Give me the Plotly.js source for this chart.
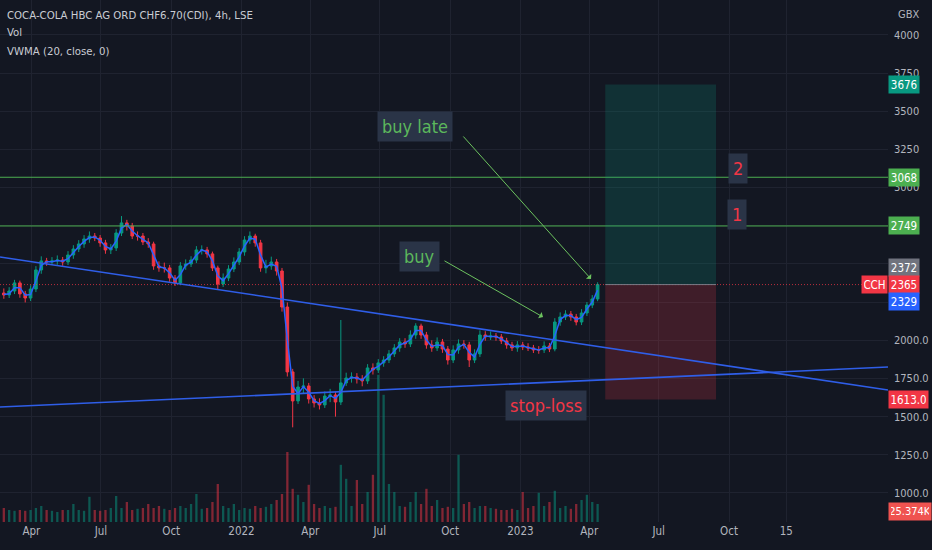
<!DOCTYPE html>
<html>
<head>
<meta charset="utf-8">
<script src="https://cdn.plot.ly/plotly-3.0.1.min.js"></script>
<style>
html,body{margin:0;padding:0;background:#131722;}
#chart{width:932px;height:550px;}
</style>
</head>
<body>
<div id="chart"></div>
<script>
// ---- data (weekly candles) ----
const dates = [
'2021-02-24','2021-03-03','2021-03-10','2021-03-17','2021-03-24','2021-03-31','2021-04-07','2021-04-14','2021-04-21','2021-04-28',
'2021-05-05','2021-05-12','2021-05-19','2021-05-26','2021-06-02','2021-06-09','2021-06-16','2021-06-23','2021-06-30','2021-07-07',
'2021-07-14','2021-07-21','2021-07-28','2021-08-04','2021-08-11','2021-08-18','2021-08-25','2021-09-01','2021-09-08','2021-09-15',
'2021-09-22','2021-09-29','2021-10-06','2021-10-13','2021-10-20','2021-10-27','2021-11-03','2021-11-10','2021-11-17','2021-11-24',
'2021-12-01','2021-12-08','2021-12-15','2021-12-22','2021-12-29','2022-01-05','2022-01-12','2022-01-19','2022-01-26','2022-02-02',
'2022-02-09','2022-02-16','2022-02-23','2022-03-02','2022-03-09','2022-03-16','2022-03-23','2022-03-30','2022-04-06','2022-04-13',
'2022-04-20','2022-04-27','2022-05-04','2022-05-11','2022-05-18','2022-05-25','2022-06-01','2022-06-08','2022-06-15','2022-06-22',
'2022-06-29','2022-07-06','2022-07-13','2022-07-20','2022-07-27','2022-08-03','2022-08-10','2022-08-17','2022-08-24','2022-08-31',
'2022-09-07','2022-09-14','2022-09-21','2022-09-28','2022-10-05','2022-10-12','2022-10-19','2022-10-26','2022-11-02','2022-11-09',
'2022-11-16','2022-11-23','2022-11-30','2022-12-07','2022-12-14','2022-12-21','2022-12-28','2023-01-04','2023-01-11','2023-01-18',
'2023-01-25','2023-02-01','2023-02-08','2023-02-15','2023-02-22','2023-03-01','2023-03-08','2023-03-15','2023-03-22','2023-03-29',
'2023-04-05','2023-04-12'];

const openP = [
2310,2297,2323,2376,2304,2277,2336,2461,2520,2513,
2520,2526,2513,2559,2598,2631,2664,2683,2670,2638,
2592,2605,2703,2769,2749,2683,2683,2644,2631,2487,
2474,2474,2408,2376,2487,2500,2526,2592,2592,2566,
2474,2369,2408,2467,2513,2579,2657,2683,2638,2474,
2487,2513,2454,2218,1793,1603,1694,1701,1616,1590,
1577,1635,1642,1596,1721,1753,1760,1747,1734,1819,
1806,1852,1871,1911,1950,1989,1976,2035,2094,2035,
1970,1950,1989,1943,1871,1937,1976,1970,1871,1911,
2035,2022,2028,2022,1996,1970,1950,1970,1956,1950,
1937,1937,1963,1943,2120,2153,2172,2153,2120,2179,
2231,2271];

const highP = [
2340,2348,2396,2391,2324,2361,2486,2550,2540,2545,
2556,2546,2584,2623,2656,2689,2713,2703,2690,2658,
2630,2728,2814,2789,2769,2713,2703,2669,2646,2517,
2509,2494,2428,2512,2530,2551,2617,2622,2612,2581,
2489,2438,2492,2543,2604,2682,2713,2698,2658,2527,
2548,2533,2474,2248,1813,1734,1751,1721,1641,1620,
1665,1682,1662,2133,1788,1790,1785,1772,1844,1849,
1877,1896,1936,1975,2014,2014,2065,2112,2109,2055,
2000,2019,2009,1963,1967,2006,2001,1990,1941,2065,
2060,2058,2048,2042,2016,1990,1995,1990,1981,1970,
1962,1993,1983,2145,2183,2197,2192,2173,2204,2251,
2296,2380];

const lowP = [
2272,2277,2303,2279,2248,2257,2316,2436,2488,2493,
2495,2488,2493,2534,2578,2606,2639,2650,2613,2567,
2565,2585,2683,2719,2663,2653,2624,2606,2462,2449,
2444,2383,2356,2361,2462,2480,2506,2562,2541,2454,
2332,2349,2388,2447,2493,2554,2632,2613,2449,2439,
2462,2424,2188,1763,1430,1583,1654,1586,1560,1547,
1557,1595,1500,1576,1701,1723,1717,1699,1714,1776,
1786,1827,1851,1891,1925,1951,1956,2010,2010,1945,
1925,1930,1918,1841,1851,1912,1945,1825,1851,1891,
1997,2002,1997,1976,1945,1930,1925,1936,1930,1917,
1912,1917,1923,1928,2095,2133,2128,2098,2100,2159,
2211,2256];

const closeP = [
2297,2323,2376,2304,2277,2336,2461,2520,2513,2520,
2526,2513,2559,2598,2631,2664,2683,2670,2638,2592,
2605,2703,2769,2749,2683,2683,2644,2631,2487,2474,
2474,2408,2376,2487,2500,2526,2592,2592,2566,2474,
2369,2408,2467,2513,2579,2657,2683,2638,2474,2487,
2513,2454,2218,1793,1603,1694,1701,1616,1590,1577,
1635,1642,1596,1721,1753,1760,1747,1734,1819,1806,
1852,1871,1911,1950,1989,1976,2035,2094,2035,1970,
1950,1989,1943,1871,1937,1976,1970,1871,1911,2035,
2022,2028,2022,1996,1970,1950,1970,1956,1950,1937,
1937,1963,1943,2120,2153,2172,2153,2120,2179,2231,
2271,2365];

const vwma = [
2300,2305,2345,2345,2295,2300,2390,2490,2515,2515,
2522,2518,2535,2578,2614,2648,2673,2677,2655,2615,
2598,2650,2735,2758,2716,2685,2664,2638,2560,2482,
2474,2442,2393,2430,2493,2512,2558,2592,2580,2520,
2422,2390,2437,2490,2546,2618,2670,2662,2558,2480,
2500,2485,2340,2005,1700,1650,1697,1660,1605,1585,
1605,1638,1620,1660,1737,1756,1753,1740,1776,1812,
1829,1861,1891,1930,1970,1982,2005,2064,2065,2002,
1960,1970,1966,1907,1904,1956,1973,1921,1891,1973,
2028,2025,2025,2009,1983,1960,1960,1963,1953,1943,
1937,1950,1953,2030,2136,2162,2162,2136,2150,2205,
2251,2329];

const volumeK = [
35,30,28,30,28,30,35,40,30,28,
25,30,30,45,30,28,63,30,28,30,
35,65,35,50,30,33,35,45,35,40,
33,30,35,40,35,45,70,33,35,50,
95,40,35,45,30,35,33,40,35,38,
45,55,70,175,83,68,50,93,45,35,
40,35,38,143,108,40,105,45,75,118,
368,318,95,75,40,38,50,75,45,83,
40,55,35,38,35,168,45,50,35,40,
40,35,33,30,30,33,30,75,35,40,
73,40,50,78,35,40,33,45,55,68,
50,45];

// drawn levels / labels
const xTickVals = ['2021-04-01','2021-07-01','2021-10-01','2022-01-01','2022-04-01','2022-07-01','2022-10-01','2023-01-01','2023-04-01','2023-07-01','2023-10-01','2023-12-15'];
const xTickText = ['Apr','Jul','Oct','2022','Apr','Jul','Oct','2023','Apr','Jul','Oct','15'];
const yTickVals = [1000,1250,1500,1750,2000,2250,2500,2750,3000,3250,3500,3750,4000];
const yTickText = ['1000.0','1250.0','1500.0','1750.0','2000.0','','','','3000','3250','3500','3750','4000'];
const targets = [3068, 2749];
const takeProfit = 3676, entry = 2365, stopLoss = 1613;
const lastHigh = 2372, lastVwma = 2329, lastVolK = 25.374;
const trendDown = {x: ['2021-02-19','2024-04-26'], y: [2546, 1675]};
const trendUp = {x: ['2021-02-19','2024-04-26'], y: [1563, 1825]};
const boxX = ['2023-04-22','2023-09-14'];

// ---- styling ----
const FONT = '"DejaVu Sans Condensed", "Liberation Sans Narrow", sans-serif';
const UP = '#089981', DOWN = '#f23645', BG = '#131722', GRID = '#1f2330', TXT = '#b2b5be';
const volColors = closeP.map((c,i) => c >= openP[i] ? 'rgba(8,153,129,0.5)' : 'rgba(242,54,69,0.5)');

const traces = [
  {type:'bar', x:dates, y:volumeK, yaxis:'y2', marker:{color:volColors, line:{width:0}},
   width: 3*86400000, hoverinfo:'skip', showlegend:false},
  {type:'candlestick', x:dates, open:openP, high:highP, low:lowP, close:closeP,
   increasing:{line:{color:UP, width:1}, fillcolor:UP},
   decreasing:{line:{color:DOWN, width:1}, fillcolor:DOWN},
   whiskerwidth:0, hoverinfo:'skip', showlegend:false},
  {type:'scatter', mode:'lines', x:dates, y:vwma, line:{color:'#2962ff', width:1.5},
   hoverinfo:'skip', showlegend:false}
];

const shapes = [];
targets.forEach(v => shapes.push({type:'line', xref:'paper', x0:0, x1:1, yref:'y', y0:v, y1:v, line:{color:'#4caf50', width:1}}));
shapes.push({type:'line', xref:'paper', x0:0, x1:1, yref:'y', y0:entry, y1:entry, line:{color:'rgba(242,54,69,0.75)', width:1, dash:'1px,2px'}});
shapes.push({type:'rect', xref:'x', yref:'y', x0:boxX[0], x1:boxX[1], y0:entry, y1:takeProfit, fillcolor:'rgba(8,153,129,0.2)', line:{width:0}});
shapes.push({type:'rect', xref:'x', yref:'y', x0:boxX[0], x1:boxX[1], y0:stopLoss, y1:entry, fillcolor:'rgba(242,54,69,0.2)', line:{width:0}});
shapes.push({type:'line', xref:'x', yref:'y', x0:boxX[0], x1:boxX[1], y0:entry, y1:entry, line:{color:'#787b86', width:1}});
shapes.push({type:'line', xref:'x', yref:'y', x0:trendDown.x[0], x1:trendDown.x[1], y0:trendDown.y[0], y1:trendDown.y[1], line:{color:'#2f5ee8', width:1.6}});
shapes.push({type:'line', xref:'x', yref:'y', x0:trendUp.x[0], x1:trendUp.x[1], y0:trendUp.y[0], y1:trendUp.y[1], line:{color:'#2f5ee8', width:1.6}});

const PW = 888, PH = 522;
const px = v => v/PW, py = v => 1 - v/PH;
const ann = [];
// legend texts
[['COCA-COLA HBC AG ORD CHF6.70(CDI), 4h, LSE',15],['Vol',33],['VWMA (20, close, 0)',52]].forEach(([t,y]) =>
  ann.push({xref:'paper', yref:'paper', x:px(5), y:py(y), xanchor:'left', yanchor:'middle', showarrow:false,
    text:t, font:{family:FONT, size:11.3, color:'#c9ccd3'}}));
ann.push({xref:'paper', yref:'paper', x:px(896), y:py(14), xanchor:'left', yanchor:'middle', showarrow:false,
  text:'GBX', font:{family:FONT, size:11, color:TXT}});
// text boxes
const boxBg = '#2a3447';
function note(t, cx, cy, color){
  ann.push({xref:'paper', yref:'paper', x:px(cx), y:py(cy), xanchor:'center', yanchor:'middle', showarrow:false,
    text:t, bgcolor:boxBg, borderpad:4, font:{family:FONT, size:18, color:color}});
}
note('buy late', 415, 126, '#5cb85c');
note('buy', 419, 257, '#5cb85c');
note('stop-loss', 546, 405, '#f23645');
note('2', 738, 168, '#f23645');
note('1', 737, 215, '#f23645');
// arrows
function arrow(x0,y0,x1,y1){
  ann.push({xref:'paper', yref:'paper', x:px(x1), y:py(y1), ax:x0-x1, ay:y0-y1, showarrow:true,
    arrowhead:1, arrowsize:1.2, arrowwidth:1, arrowcolor:'#6cc25f', text:''});
}
arrow(462,135,591,279);
arrow(443,260,543,317);
// price badges
function badge(t, yref, y, color, w, yshift, fs){
  ann.push({xref:'paper', x:1, xanchor:'left', yref:yref, y:y, yanchor:'middle', yshift:yshift||0, showarrow:false,
    text:t, bgcolor:color, width:w, height:13, borderpad:2, align:'center', font:{family:FONT, size:fs||11.5, color:'#ffffff'}});
}
badge(String(takeProfit), 'y', takeProfit, '#089981', 26);
badge(String(targets[0]), 'y', targets[0], '#4caf50', 26);
badge(String(targets[1]), 'y', targets[1], '#4caf50', 26);
badge(String(lastHigh), 'y', entry, '#70737e', 26, 17);
badge(String(entry), 'y', entry, '#f23645', 26);
badge(String(lastVwma), 'y', entry, '#2962ff', 26, -17);
badge(stopLoss.toFixed(1), 'y', stopLoss, '#f23645', 35);
badge(lastVolK.toFixed(3)+'K', 'y2', lastVolK, '#ef5350', 38, 0, 11);
ann.push({xref:'paper', x:1, xanchor:'right', yref:'y', y:entry, yanchor:'middle', showarrow:false,
  text:'CCH', bgcolor:'#f23645', width:21, height:13, borderpad:2, font:{family:FONT, size:11.5, color:'#ffffff'}});

const layout = {
  width:932, height:550,
  paper_bgcolor:BG, plot_bgcolor:BG,
  margin:{l:0, r:44, t:0, b:28},
  showlegend:false,
  dragmode:false,
  xaxis:{type:'date', range:['2021-02-19','2024-04-26'], tickvals:xTickVals, ticktext:xTickText,
    showgrid:true, gridcolor:GRID, zeroline:false, showline:false, ticks:'',
    tickfont:{family:FONT, size:11.5, color:TXT}, rangeslider:{visible:false}, fixedrange:true},
  yaxis:{side:'right', range:[810,4229], tickvals:yTickVals, ticktext:yTickText,
    showgrid:true, gridcolor:GRID, zeroline:false, showline:false, ticks:'', ticklabelstandoff:5,
    tickfont:{family:FONT, size:11, color:TXT}, fixedrange:true},
  yaxis2:{overlaying:'y', range:[0,1305], visible:false, showgrid:false, fixedrange:true},
  shapes:shapes,
  annotations:ann
};

Plotly.newPlot('chart', traces, layout, {displayModeBar:false, staticPlot:true});
</script>
</body>
</html>
